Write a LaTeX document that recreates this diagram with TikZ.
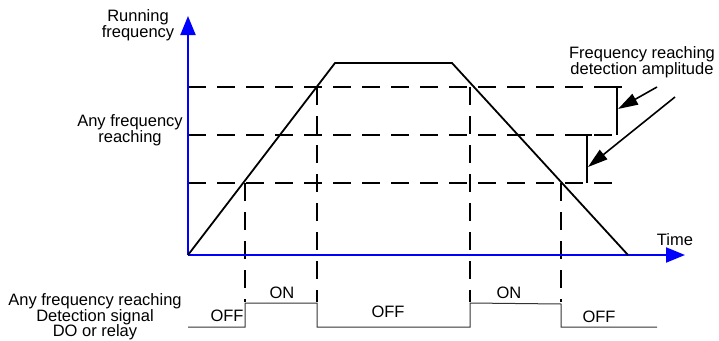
\documentclass[tikz,border=0pt]{standalone}
\usepackage{fontspec}
\setmainfont{Liberation Sans}
\usetikzlibrary{arrows.meta}

\begin{document}
\begin{tikzpicture}[
    x=1pt, y=-1pt,
    lbl/.style={font=\fontsize{16.5}{16.5}\selectfont, align=center, inner sep=0pt},
    axis/.style={blue, line width=2pt, -{Triangle[length=19pt, width=15pt]}},
    curve/.style={line width=1.8pt},
    guide/.style={line width=2.2pt, dash pattern=on 18pt off 11pt},
    sig/.style={line width=1pt, black!80},
    pointer/.style={line width=1.6pt, -{Triangle[length=20pt, width=12pt]}}
  ]
  \useasboundingbox (0,0) rectangle (719,340);

  % frequency levels
  \coordinate (hiW) at (188,87);   \coordinate (hiE) at (623,87);
  \coordinate (midW) at (188,135); \coordinate (midE) at (623,135);
  \coordinate (loW) at (188,183);  \coordinate (loE) at (623,183);
  \draw[guide] (hiW) -- (hiE);
  \draw[guide] (midW) -- (midE);
  \draw[guide] (loW) -- (loE);

  % switching instants
  \coordinate (t1) at (245,183); \coordinate (s1) at (245,302);
  \coordinate (t2) at (317,87);  \coordinate (s2) at (317,302);
  \coordinate (t3) at (470,87);  \coordinate (s3) at (470,302);
  \coordinate (t4) at (561,183); \coordinate (s4) at (561,302);
  \draw[guide] (t1) -- (s1);
  \draw[guide] (t2) -- (s2);
  \draw[guide] (t3) -- (s3);
  \draw[guide] (t4) -- (s4);

  % axes
  \coordinate (o) at (188,255);
  \coordinate (ytip) at (188,16);
  \coordinate (xtip) at (685,255);
  \draw[axis] (o) -- (ytip);
  \draw[axis] (o) -- (xtip);

  % running frequency
  \coordinate (up) at (335,63);
  \coordinate (down) at (452,63);
  \coordinate (stop) at (628,255);
  \draw[curve] (o) -- (up) -- (down) -- (stop);

  % detection amplitude bars
  \coordinate (b1t) at (617,87);  \coordinate (b1b) at (617,135);
  \coordinate (b2t) at (587,135); \coordinate (b2b) at (587,183);
  \draw[curve] (b1t) -- (b1b);
  \draw[curve] ([xshift=-6pt]b1t) -- ([xshift=5pt]b1t);
  \draw[curve] (b2t) -- (b2b);
  \draw[curve] ([xshift=-5pt]b2t) -- ([xshift=5pt]b2t);
  \coordinate (p1) at (657,87);
  \coordinate (p2) at (675,97);
  \draw[pointer] (p1) -- ([xshift=1pt]617,109);
  \draw[pointer] (p2) -- ([xshift=1pt]587,167);

  % output signal
  \draw[sig] (188,327) -- (245,327) -- (245,303) -- (317,303) -- (317,327)
    -- (470,327) -- (470,303) -- (561,304) -- (561,327) -- (657,327);

  % labels
  \node[lbl] (yname) at (138,25) {Running\\frequency};
  \node[lbl] (xname) at (675,240) {Time};
  \node[lbl] (anyf) at (130,130) {Any frequency\\reaching};
  \node[lbl] (ampl) at (642,62) {Frequency reaching\\detection amplitude};
  \node[lbl, font=\fontsize{16.5}{15.5}\selectfont] (out) at (95,317) {Any frequency reaching\\Detection signal\\DO or relay};
  \node[lbl] (off1) at (227,316) {OFF};
  \node[lbl] (on1) at (282,293) {ON};
  \node[lbl] (off2) at (388,312) {OFF};
  \node[lbl] (on2) at (509,293) {ON};
  \node[lbl] (off3) at (599,317) {OFF};
\end{tikzpicture}
\end{document}
